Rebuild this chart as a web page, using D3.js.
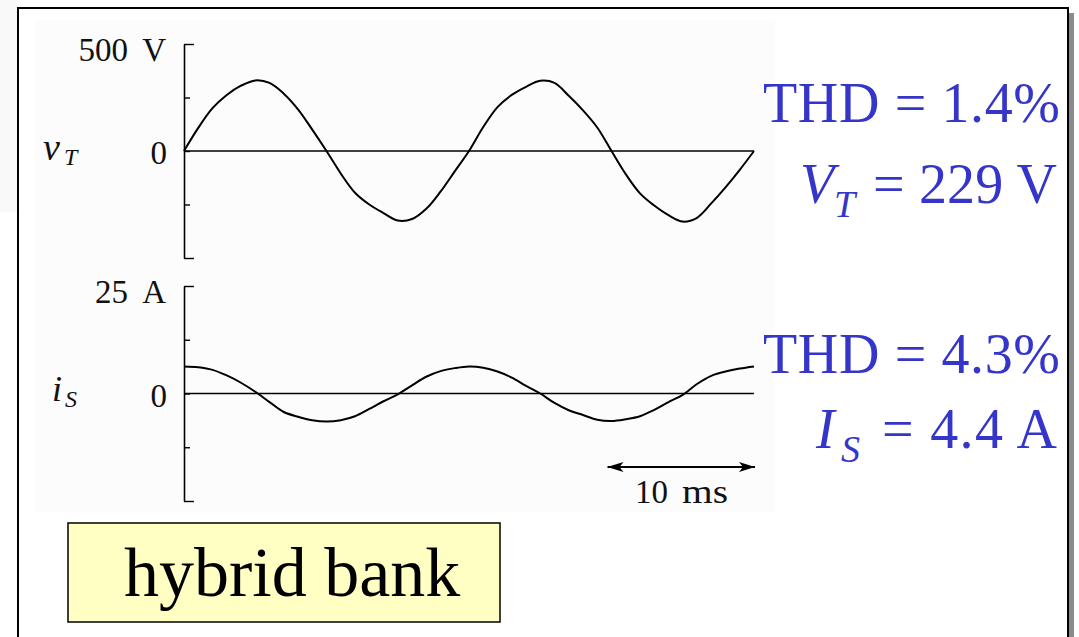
<!DOCTYPE html>
<html>
<head>
<meta charset="utf-8">
<script src="https://cdn.jsdelivr.net/npm/d3@7"></script>
<style>
  html, body { margin: 0; padding: 0; background: #ffffff; }
  svg { display: block; }
  text { font-family: "Liberation Serif", "Times New Roman", serif; }
</style>
</head>
<body>
<svg id="chart" width="1079" height="637"></svg>
<script>
// Time axis (ms), one sample per millisecond over two mains cycles
const timeMs = d3.range(0, 41);

// Terminal voltage v_T (V)
const voltage = [
  0, 108, 200, 262, 305, 330, 318, 268, 195, 100,
  0, -105, -195, -250, -290, -325, -318, -270, -190, -95,
  0, 112, 205, 262, 300, 328, 318, 258, 190, 110,
  0, -108, -198, -255, -300, -330, -312, -245, -170, -88,
  0
];

// Supply current i_S (A)
const current = [
  6.3, 6.1, 5.5, 4.2, 2.5, 0.4, -2.0, -4.3, -5.4, -6.2,
  -6.5, -6.2, -5.3, -3.6, -1.8, -0.2, 1.9, 3.9, 5.2, 5.9,
  6.3, 6.0, 5.1, 3.7, 1.8, 0.0, -2.2, -3.9, -5.0, -6.1,
  -6.4, -6.0, -5.3, -3.8, -2.0, -0.3, 2.2, 4.1, 5.1, 5.8,
  6.3
];

// Axis ranges and tick positions
const voltTicks = [-500, -250, 0, 250, 500];
const currTicks = [-25, -12.5, 0, 12.5, 25];
const scaleBarMs = [30, 40];

// Annotation text
const voltStats = { thd: "THD = 1.4%", sym: "V", sub: "T", rest: "= 229 V" };
const currStats = { thd: "THD = 4.3%", sym: "I", sub: "S", rest: "= 4.4 A" };
const caption = "hybrid bank";

const svg = d3.select("#chart");
const blue = "#3535c9";

// Page background tint left of the frame
svg.append("rect").attr("x", 0).attr("y", 0).attr("width", 17).attr("height", 212).attr("fill", "#f9f9f9");

// Slide frame with drop shadow
svg.append("rect").attr("x", 22).attr("y", 13).attr("width", 1052).attr("height", 640).attr("fill", "#8a8a8a");
svg.append("rect").attr("x", 18).attr("y", 8).attr("width", 1050).attr("height", 640)
  .attr("fill", "#ffffff").attr("stroke", "#000").attr("stroke-width", 2);

// Faint plot backdrop
svg.append("rect").attr("x", 35).attr("y", 20).attr("width", 740).attr("height", 492).attr("fill", "#fcfcfc");

const x = d3.scaleLinear().domain([0, 40]).range([184, 754]);
const yV = d3.scaleLinear().domain([-500, 500]).range([258, 44]);
const yI = d3.scaleLinear().domain([-25, 25]).range([501, 286]);

function panel(yScale, ticks, values, topNum, unit) {
  const g = svg.append("g");
  // Vertical axis; end ticks longer than inner ticks
  const axis = d3.axisRight(yScale).tickValues(ticks).tickFormat("").tickSizeOuter(0).tickSize(0);
  const ag = g.append("g").attr("transform", `translate(${x(0)},0)`).call(axis);
  ag.select(".domain").attr("stroke", "#000").attr("stroke-width", 1.6);
  ag.selectAll(".tick line")
    .attr("x2", (d, i) => (i === 0 || i === ticks.length - 1) ? 10 : 6)
    .attr("stroke", "#000").attr("stroke-width", 1.4);

  // Zero line
  g.append("line")
    .attr("x1", x(0)).attr("x2", x(40))
    .attr("y1", yScale(0)).attr("y2", yScale(0))
    .attr("stroke", "#000").attr("stroke-width", 1.6);

  // Waveform
  const line = d3.line()
    .x((d, i) => x(timeMs[i]))
    .y(d => yScale(d))
    .curve(d3.curveCatmullRom.alpha(0.5));
  g.append("path").datum(values).attr("d", line)
    .attr("fill", "none").attr("stroke", "#000").attr("stroke-width", 2);

  // Tick labels
  const yTop = yScale(ticks[ticks.length - 1]) + 17;
  g.append("text").attr("x", 166).attr("y", yTop)
    .attr("text-anchor", "end").attr("font-size", 33).attr("fill", "#111").text(unit);
  g.append("text").attr("x", 128).attr("y", yTop)
    .attr("text-anchor", "end").attr("font-size", 33).attr("fill", "#111").text(topNum);
  g.append("text").attr("x", 167).attr("y", yScale(0) + 13)
    .attr("text-anchor", "end").attr("font-size", 33).attr("fill", "#111").text("0");
  return g;
}

panel(yV, voltTicks, voltage, "500", "V");
panel(yI, currTicks, current, "25", "A");

// Signal names
svg.append("text").attr("x", 43).attr("y", yV(0) + 9)
  .attr("font-size", 38).attr("font-style", "italic").attr("fill", "#111").text("v");
svg.append("text").attr("x", 64).attr("y", yV(0) + 14)
  .attr("font-size", 24).attr("font-style", "italic").attr("fill", "#111").text("T");
svg.append("text").attr("x", 52).attr("y", yI(0) + 7)
  .attr("font-size", 36).attr("font-style", "italic").attr("fill", "#111").text("i");
svg.append("text").attr("x", 65).attr("y", yI(0) + 13)
  .attr("font-size", 24).attr("font-style", "italic").attr("fill", "#111").text("S");

// 10 ms scale bar
const defs = svg.append("defs");
defs.append("marker").attr("id", "head").attr("viewBox", "0 0 16 10")
  .attr("refX", 16).attr("refY", 5).attr("markerWidth", 16).attr("markerHeight", 10)
  .attr("markerUnits", "userSpaceOnUse").attr("orient", "auto-start-reverse")
  .append("path").attr("d", "M0,0 L16,5 L0,10 L4,5 Z").attr("fill", "#000");
svg.append("line")
  .attr("x1", x(scaleBarMs[0]) - 4).attr("x2", x(scaleBarMs[1]) + 1)
  .attr("y1", 467).attr("y2", 467)
  .attr("stroke", "#000").attr("stroke-width", 2)
  .attr("marker-start", "url(#head)").attr("marker-end", "url(#head)");
svg.append("text").attr("x", 635).attr("y", 503)
  .attr("font-size", 33).attr("fill", "#111").text("10");
svg.append("text").attr("x", 682).attr("y", 503)
  .attr("textLength", 46).attr("lengthAdjust", "spacingAndGlyphs")
  .attr("font-size", 33).attr("fill", "#111").text("ms");

// Measurement annotations
function stats(s, yThd, yVal, xSym, xSub, xRest, restWidth) {
  svg.append("text").attr("x", 763).attr("y", yThd)
    .attr("font-size", 56).attr("fill", blue)
    .attr("textLength", 297).attr("lengthAdjust", "spacing")
    .text(s.thd);
  svg.append("text").attr("x", xRest).attr("y", yVal)
    .attr("font-size", 56).attr("fill", blue)
    .attr("textLength", restWidth).attr("lengthAdjust", "spacing")
    .text(s.rest);
  svg.append("text").attr("x", xSym).attr("y", yVal)
    .attr("font-size", 56).attr("font-style", "italic").attr("fill", blue).text(s.sym);
  svg.append("text").attr("x", xSub).attr("y", yVal + 14)
    .attr("font-size", 38).attr("font-style", "italic").attr("fill", blue).text(s.sub);
}
stats(voltStats, 122, 203, 800, 834, 873, 184);
stats(currStats, 373, 448, 816, 841, 882, 175);

// Caption box
svg.append("rect").attr("x", 68).attr("y", 523).attr("width", 432).attr("height", 99)
  .attr("fill", "#ffffc4").attr("stroke", "#000").attr("stroke-width", 1.5);
svg.append("text").attr("x", 124).attr("y", 596).attr("font-size", 70).attr("fill", "#000")
  .text(caption);
</script>
</body>
</html>
